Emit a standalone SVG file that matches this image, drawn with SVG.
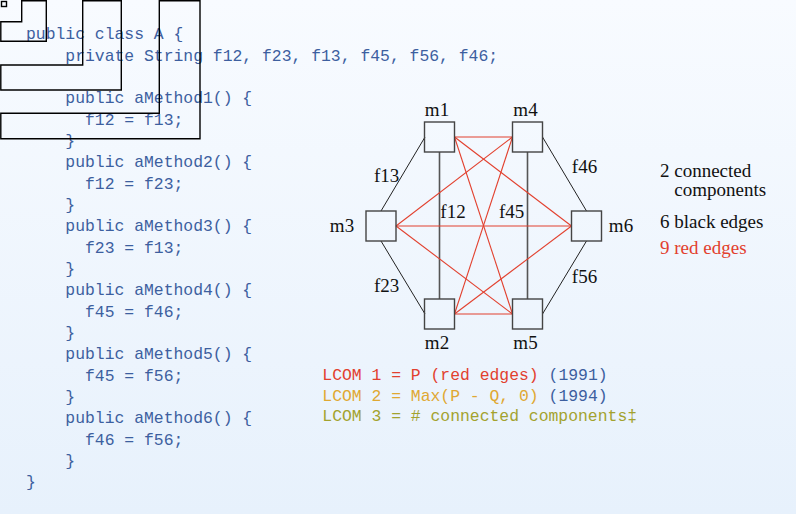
<svg xmlns="http://www.w3.org/2000/svg" width="796" height="514" viewBox="0 0 796 514">
<defs>
<linearGradient id="bg" x1="0" y1="0" x2="0" y2="1">
<stop offset="0" stop-color="#f8fbff"/>
<stop offset="1" stop-color="#e7f1fc"/>
</linearGradient>
<style>
.code{font-family:"Liberation Mono","DejaVu Sans Mono",monospace;font-size:16.4px;fill:#3d5f9f}
.lbl{font-family:"Liberation Serif","DejaVu Serif",serif;font-size:19px;fill:#111;text-anchor:middle}
.note{font-family:"Liberation Serif","DejaVu Serif",serif;font-size:19px;fill:#111}
.box{fill:none;stroke:#444;stroke-width:1.4}
.blk{stroke:#222;stroke-width:1;fill:none}
.vert{stroke:#555;stroke-width:1.6;fill:none}
.red{stroke:#e2402e;stroke-width:1.1;fill:none}
.outl{fill:none;stroke:#000;stroke-width:1.4}
</style>
</defs>
<rect width="796" height="514" fill="url(#bg)"/>

<g id="code">
<text class="code" x="26" y="39.3">public class A {</text>
<text class="code" x="65.3" y="60.6">private String f12, f23, f13, f45, f56, f46;</text>
<text class="code" x="65.3" y="103.3">public aMethod1() {</text>
<text class="code" x="85" y="124.6">f12 = f13;</text>
<text class="code" x="65.3" y="146">}</text>
<text class="code" x="65.3" y="167.3">public aMethod2() {</text>
<text class="code" x="85" y="188.6">f12 = f23;</text>
<text class="code" x="65.3" y="210">}</text>
<text class="code" x="65.3" y="231.3">public aMethod3() {</text>
<text class="code" x="85" y="252.6">f23 = f13;</text>
<text class="code" x="65.3" y="274">}</text>
<text class="code" x="65.3" y="295.3">public aMethod4() {</text>
<text class="code" x="85" y="316.6">f45 = f46;</text>
<text class="code" x="65.3" y="338">}</text>
<text class="code" x="65.3" y="359.3">public aMethod5() {</text>
<text class="code" x="85" y="380.6">f45 = f56;</text>
<text class="code" x="65.3" y="402">}</text>
<text class="code" x="65.3" y="423.3">public aMethod6() {</text>
<text class="code" x="85" y="444.6">f46 = f56;</text>
<text class="code" x="65.3" y="466">}</text>
<text class="code" x="26" y="487.3">}</text>
</g>

<g id="outlines">
<rect class="outl" x="1.5" y="1.5" width="5" height="5"/>
<path class="outl" d="M21.7,0.8 H46.3 V41.3 H0.8 V21.7 H21.7 Z"/>
<path class="outl" d="M82.7,0.8 H121.3 V90 H0.8 V65 H82.7 Z"/>
<path class="outl" d="M159.3,0.8 H200 V138.8 H0.8 V113.3 H159.3 Z"/>
</g>

<g id="connectors">
<line class="blk" x1="425" y1="137" x2="381" y2="211"/>
<line class="blk" x1="381" y1="241" x2="425" y2="314"/>
<line class="blk" x1="542.5" y1="137" x2="586.5" y2="211"/>
<line class="blk" x1="586.5" y1="241" x2="542.5" y2="314"/>
<line class="vert" x1="439.5" y1="152" x2="439.5" y2="299"/>
<line class="vert" x1="527.5" y1="152" x2="527.5" y2="299"/>
<line class="red" x1="454.5" y1="137" x2="512.5" y2="137"/>
<line class="red" x1="454.5" y1="137" x2="571.5" y2="226"/>
<line class="red" x1="454.5" y1="137" x2="512.5" y2="314"/>
<line class="red" x1="512.5" y1="137" x2="396" y2="226"/>
<line class="red" x1="512.5" y1="137" x2="454.5" y2="314"/>
<line class="red" x1="396" y1="226" x2="571.5" y2="226"/>
<line class="red" x1="396" y1="226" x2="512.5" y2="314"/>
<line class="red" x1="454.5" y1="314" x2="571.5" y2="226"/>
<line class="red" x1="454.5" y1="314" x2="512.5" y2="314"/>
</g>

<g id="m1"><rect class="box" x="424.5" y="122" width="30" height="30"/><text class="lbl" x="437" y="116">m1</text></g>
<g id="m4"><rect class="box" x="512.5" y="122" width="30" height="30"/><text class="lbl" x="525.5" y="116">m4</text></g>
<g id="m3"><rect class="box" x="366" y="211" width="30" height="30"/><text class="lbl" x="342" y="232.3">m3</text></g>
<g id="m6"><rect class="box" x="571.5" y="211" width="30" height="30"/><text class="lbl" x="621" y="232.3">m6</text></g>
<g id="m2"><rect class="box" x="424.5" y="299" width="30" height="30"/><text class="lbl" x="437" y="349.3">m2</text></g>
<g id="m5"><rect class="box" x="512.5" y="299" width="30" height="30"/><text class="lbl" x="525.5" y="349.3">m5</text></g>

<g id="edge-labels">
<text class="lbl" x="386.7" y="181.7">f13</text>
<text class="lbl" x="584.5" y="173.3">f46</text>
<text class="lbl" x="453" y="217.7">f12</text>
<text class="lbl" x="511.7" y="217.7">f45</text>
<text class="lbl" x="386.7" y="291.7">f23</text>
<text class="lbl" x="584.5" y="283.3">f56</text>
</g>

<g id="notes">
<text class="note" x="660" y="176.7">2 connected</text>
<text class="note" x="674.3" y="195.5">components</text>
<text class="note" x="660" y="227.7">6 black edges</text>
<text class="note" x="660" y="254.3" fill="#e2402e" style="fill:#e2402e">9 red edges</text>
</g>

<g id="lcom">
<text class="code" x="322.3" y="380.3"><tspan style="fill:#e2402e">LCOM 1 = P (red edges)</tspan> (1991)</text>
<text class="code" x="322.3" y="400.8"><tspan style="fill:#e0a832">LCOM 2 = Max(P - Q, 0)</tspan> (1994)</text>
<text class="code" x="322.3" y="421.3" style="fill:#a3a22e">LCOM 3 = # connected components‡</text>
</g>
</svg>
